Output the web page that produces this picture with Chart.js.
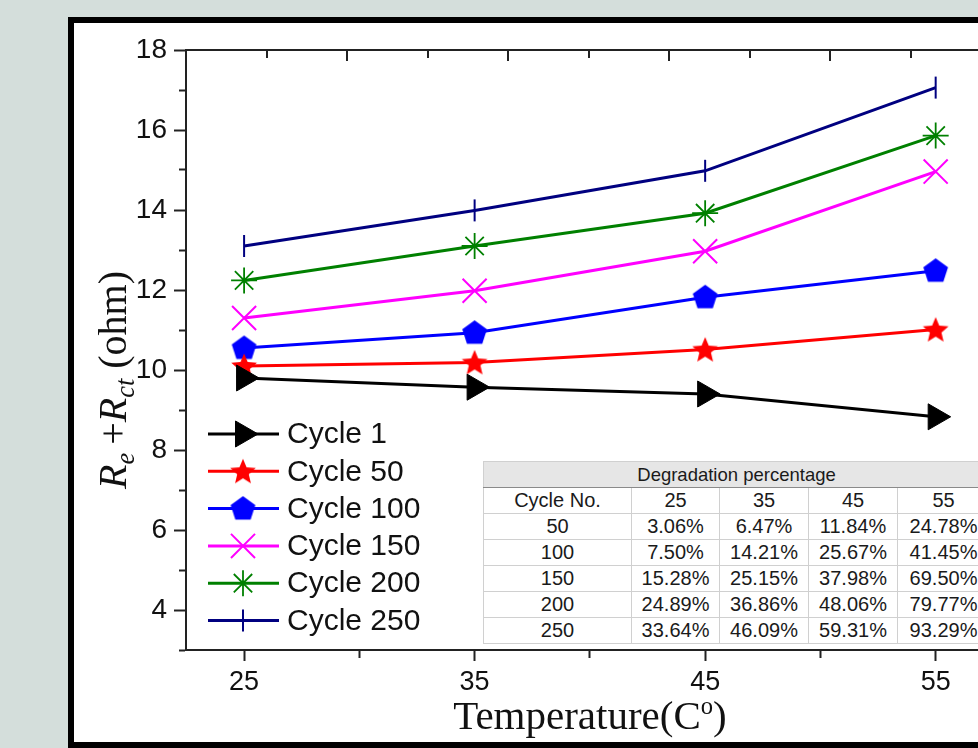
<!DOCTYPE html>
<html>
<head>
<meta charset="utf-8">
<script src="https://cdn.jsdelivr.net/npm/chart.js@4/dist/chart.umd.min.js"></script>
<style>
html, body { margin:0; padding:0; width:978px; height:748px; overflow:hidden; background:#d4dedb; }
#frame { position:absolute; left:68px; top:17px; width:1000px; height:731px; box-sizing:border-box; border:6px solid #000; background:#fff; z-index:0; }
#wrap { position:absolute; left:0; top:0; width:1100px; height:748px; z-index:1; }
#ytitle { position:absolute; left:-37px; top:355px; width:300px; height:50px; line-height:50px; text-align:center; white-space:nowrap;
  font-family:'Liberation Serif','Times New Roman',serif; font-size:40px; color:#111; transform:rotate(-90deg); z-index:2; }
#ytitle sub { font-size:0.66em; vertical-align:-0.32em; line-height:0; }
#xtitle { position:absolute; left:390px; top:692px; width:400px; height:46px; line-height:46px; text-align:center; white-space:nowrap;
  font-family:'Liberation Serif','Times New Roman',serif; font-size:41px; color:#111; z-index:2; }
#xtitle sup { font-size:0.6em; vertical-align:0.6em; line-height:0; }
#tbl { position:absolute; left:483px; top:461px; width:506px; border-collapse:collapse; background:#fff; z-index:2;
  font-family:'Liberation Sans',Arial,sans-serif; font-size:20px; color:#1a1a1a; table-layout:fixed; }
#tbl td { border:1px solid #d0d0d0; height:25px; padding:0; text-align:center; vertical-align:middle; line-height:25px; white-space:nowrap; overflow:visible; }
#tbl tr.head td { background:#e6e6e6; font-size:18.5px; border-bottom:1px solid #8a8a8a; }
#tbl { border:1px solid #9a9a9a; }
</style>
</head>
<body>
<div id="frame"></div>
<div id="wrap"><canvas id="c" width="1100" height="748"></canvas></div>
<div id="ytitle"><i>R</i><sub><i>e</i></sub>&thinsp;+<i>R</i><sub><i>ct</i></sub>&nbsp;(ohm)</div>
<div id="xtitle">Temperature(C<sup>o</sup>)</div>
<table id="tbl"></table>
<script>
// ---------- data ----------
const temperatures = [25, 35, 45, 55];
const seriesNames = ['Cycle 1', 'Cycle 50', 'Cycle 100', 'Cycle 150', 'Cycle 200', 'Cycle 250'];
const cycle1   = [9.80, 9.57, 9.40, 8.83];
const cycle50  = [10.10, 10.19, 10.51, 11.01];
const cycle100 = [10.55, 10.93, 11.82, 12.48];
const cycle150 = [11.30, 11.98, 12.97, 14.96];
const cycle200 = [12.24, 13.10, 13.92, 15.86];
const cycle250 = [13.10, 13.99, 14.98, 17.06];
const xTickLabels = [25, 35, 45, 55];
const yTickLabels = [4, 6, 8, 10, 12, 14, 16, 18];
const tableTitle = 'Degradation percentage';
const tableHeader = ['Cycle No.', '25', '35', '45', '55'];
const tableCycles = ['50', '100', '150', '200', '250'];
const degr50  = ['3.06%', '6.47%', '11.84%', '24.78%'];
const degr100 = ['7.50%', '14.21%', '25.67%', '41.45%'];
const degr150 = ['15.28%', '25.15%', '37.98%', '69.50%'];
const degr200 = ['24.89%', '36.86%', '48.06%', '79.77%'];
const degr250 = ['33.64%', '46.09%', '59.31%', '93.29%'];

// ---------- table ----------
(function buildTable() {
  const tbl = document.getElementById('tbl');
  const colW = [148, 88, 89, 89, 92];
  const cg = document.createElement('colgroup');
  colW.forEach(w => { const c = document.createElement('col'); c.style.width = w + 'px'; cg.appendChild(c); });
  tbl.appendChild(cg);
  const h = document.createElement('tr'); h.className = 'head';
  const ht = document.createElement('td'); ht.colSpan = 5; ht.textContent = tableTitle; h.appendChild(ht); tbl.appendChild(h);
  const r0 = document.createElement('tr');
  tableHeader.forEach(t => { const td = document.createElement('td'); td.textContent = t; r0.appendChild(td); });
  tbl.appendChild(r0);
  const rows = [degr50, degr100, degr150, degr200, degr250];
  rows.forEach((vals, i) => {
    const tr = document.createElement('tr');
    [tableCycles[i]].concat(vals).forEach(t => { const td = document.createElement('td'); td.textContent = t; tr.appendChild(td); });
    tbl.appendChild(tr);
  });
})();

// ---------- custom markers ----------
function makePolyStar(color, size, points, innerRatio) {
  const c = document.createElement('canvas'); c.width = size; c.height = size;
  const g = c.getContext('2d');
  const cx = size / 2, cy = size / 2 + (innerRatio ? 1 : 0.5), R = size / 2 - 0.5;
  g.beginPath();
  const n = innerRatio ? points * 2 : points;
  for (let k = 0; k < n; k++) {
    const a = -Math.PI / 2 + k * 2 * Math.PI / n;
    const rr = (innerRatio && k % 2) ? R * innerRatio : R;
    g.lineTo(cx + rr * Math.cos(a), cy + rr * Math.sin(a));
  }
  g.closePath(); g.fillStyle = color; g.fill();
  return c;
}
const starImg = makePolyStar('#ff0000', 28, 5, 0.45);
const pentImg = makePolyStar('#0000ff', 27, 5, 0);

const seriesValues = [cycle1, cycle50, cycle100, cycle150, cycle200, cycle250];
const colors = ['#000000', '#ff0000', '#0000ff', '#ff00ff', '#008000', '#000080'];
const styles = [
  { pointStyle: 'triangle', pointRotation: 90, pointRadius: 15, pointBorderWidth: 1 },
  { pointStyle: starImg, pointRotation: 0, pointRadius: 14, pointBorderWidth: 0 },
  { pointStyle: pentImg, pointRotation: 0, pointRadius: 14, pointBorderWidth: 0 },
  { pointStyle: 'crossRot', pointRotation: 0, pointRadius: 17, pointBorderWidth: 2 },
  { pointStyle: 'star', pointRotation: 0, pointRadius: 13, pointBorderWidth: 1.8 },
  { pointStyle: 'line', pointRotation: 90, pointRadius: 11, pointBorderWidth: 2 }
];

const datasets = seriesNames.map((name, i) => Object.assign({
  label: name,
  data: temperatures.map((t, k) => ({ x: t, y: seriesValues[i][k] })),
  borderColor: colors[i],
  backgroundColor: colors[i],
  pointBackgroundColor: colors[i],
  pointBorderColor: colors[i],
  borderWidth: 3,
  tension: 0,
  fill: false
}, styles[i]));

// ---------- legend inside plot ----------
const insideLegend = {
  id: 'insideLegend',
  afterDatasetsDraw(chart, args, o) {
    const ctx = chart.ctx;
    chart.data.datasets.forEach((ds, i) => {
      const y = o.top + i * o.gap;
      ctx.save();
      ctx.strokeStyle = ds.borderColor; ctx.lineWidth = ds.borderWidth;
      ctx.beginPath(); ctx.moveTo(o.lineStart, y); ctx.lineTo(o.lineEnd, y); ctx.stroke();
      ctx.fillStyle = ds.pointBackgroundColor; ctx.strokeStyle = ds.pointBorderColor; ctx.lineWidth = ds.pointBorderWidth;
      Chart.helpers.drawPoint(ctx, { pointStyle: ds.pointStyle, rotation: ds.pointRotation || 0, radius: ds.pointRadius, borderWidth: ds.pointBorderWidth }, o.markerX, y);
      ctx.fillStyle = o.color; ctx.font = o.font; ctx.textBaseline = 'middle'; ctx.textAlign = 'left';
      ctx.fillText(ds.label, o.textX, y + 1);
      ctx.restore();
    });
  }
};

const axisColor = '#222';

new Chart(document.getElementById('c'), {
  type: 'line',
  data: { datasets },
  plugins: [insideLegend],
  options: {
    responsive: false, animation: false, devicePixelRatio: 1,
    layout: { padding: { left: 0, top: 0, right: 109, bottom: 0 } },
    plugins: {
      legend: { display: false }, tooltip: { enabled: false },
      insideLegend: { top: 434, gap: 37.3, lineStart: 208, lineEnd: 279, markerX: 243, textX: 287,
        font: "30px 'Liberation Sans', Arial, sans-serif", color: '#111' }
    },
    scales: {
      x: {
        type: 'linear', position: 'bottom', min: 22.48, max: 57.4,
        afterFit: s => { s.height = 98; },
        ticks: { stepSize: 5, includeBounds: false, autoSkip: false, maxRotation: 0, padding: 5,
          color: '#111', font: { family: "'Liberation Sans', Arial, sans-serif", size: 27 },
          callback: v => xTickLabels.includes(v) ? String(v) : '' },
        grid: { drawOnChartArea: false, drawTicks: true, tickLength: 11, tickWidth: 2, tickColor: axisColor,
          tickBorderDash: c => (c.tick && xTickLabels.includes(c.tick.value)) ? [] : [7, 100] },
        border: { display: true, color: axisColor, width: 2 }
      },
      x2: {
        type: 'linear', position: 'top', min: 0, max: 10,
        afterFit: s => { s.height = 50; },
        ticks: { display: false, stepSize: 1, includeBounds: false },
        grid: { drawOnChartArea: true, drawTicks: false, lineWidth: 2,
          color: c => (c.tick && c.tick.value > 0 && c.tick.value < 10) ? axisColor : 'rgba(0,0,0,0)' },
        border: { display: true, color: axisColor, width: 2,
          dash: c => (c.tick && c.tick.value % 2 === 0) ? [10, 3000] : [7, 3000] }
      },
      y: {
        type: 'linear', position: 'left', min: 3, max: 18,
        afterFit: s => { s.width = 186; },
        ticks: { stepSize: 1, autoSkip: false, padding: 7, color: '#111',
          font: { family: "'Liberation Sans', Arial, sans-serif", size: 28 },
          callback: v => yTickLabels.includes(v) ? String(v) : '' },
        grid: { drawOnChartArea: false, drawTicks: true, tickLength: 12, tickWidth: 2, tickColor: axisColor,
          tickBorderDash: c => (c.tick && yTickLabels.includes(c.tick.value)) ? [] : [0, 5, 30] },
        border: { display: true, color: axisColor, width: 2 }
      }
    }
  }
});
</script>
</body>
</html>
